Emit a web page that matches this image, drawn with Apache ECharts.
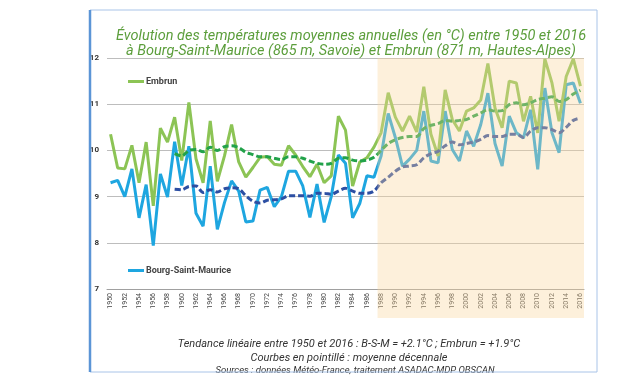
<!DOCTYPE html>
<html>
<head>
<meta charset="utf-8">
<script src="https://cdn.jsdelivr.net/npm/echarts@6/dist/echarts.min.js"></script>
<style>
  html, body { margin: 0; padding: 0; background: #fff; }
  #chart { width: 644px; height: 377px; }
</style>
</head>
<body>
<div id="chart"></div>
<script>
// années 1950 -> 2016
var years = [];
for (var y = 1950; y <= 2016; y++) years.push(String(y));

// Embrun, moyenne annuelle
var embrun = [
  10.35, 9.62, 9.6, 10.11, 9.3, 10.18, 8.8, 10.48, 10.18, 10.72,
  9.78, 11.04, 9.82, 9.3, 10.64, 9.33, 9.88, 10.56, 9.75, 9.42,
  9.63, 9.85, 9.87, 9.7, 9.68, 10.1, 9.9, 9.65, 9.43, 9.7,
  9.3, 9.45, 10.74, 10.44, 9.23, 9.75, 9.84, 10.07, 10.38, 11.25,
  10.72, 10.42, 10.74, 10.4, 11.38, 10.35, 9.88, 11.31, 10.67, 10.42,
  10.85, 10.92, 11.09, 11.88, 10.92, 10.49, 11.5, 11.46, 10.63, 11.17,
  10.38, 11.98, 11.46, 10.63, 11.6, 11.98, 11.39
];

// Bourg-Saint-Maurice, moyenne annuelle
var bsm = [
  9.3, 9.35, 9.0, 9.6, 8.54, 9.26, 7.94, 9.49, 8.99, 10.19,
  9.24, 10.09, 8.64, 8.36, 9.66, 8.29, 8.87, 9.34, 9.12, 8.45,
  8.47, 9.14, 9.2, 8.78, 9.0, 9.55, 9.55, 9.23, 8.55, 9.27,
  8.44, 9.0, 9.9, 9.72, 8.54, 8.85, 9.45, 9.42, 9.88, 10.8,
  10.28, 9.66, 9.81, 10.0, 10.85, 9.77, 9.73, 10.85, 10.02, 9.77,
  10.42, 10.09, 10.56, 11.24, 10.15, 9.66, 10.74, 10.38, 10.27, 10.88,
  9.59, 11.35, 10.38, 9.95, 11.42, 11.46, 11.02
];

// moyennes décennales (à partir de 1959)
var embrunAvg = [
  null, null, null, null, null, null, null, null, null, 9.93,
  9.88, 10.0, 10.02, 9.97, 10.07, 10.0, 10.08, 10.1, 10.06, 9.96,
  9.91, 9.86, 9.86, 9.83, 9.8, 9.86, 9.86, 9.83, 9.77, 9.72,
  9.7, 9.72, 9.83, 9.84, 9.79, 9.77, 9.79, 9.85, 10.0, 10.15,
  10.23, 10.28, 10.3, 10.3, 10.47, 10.54, 10.58, 10.65, 10.63, 10.65,
  10.67, 10.74, 10.81, 10.88, 10.85, 10.86, 10.99, 11.03, 10.99, 11.03,
  11.1, 11.13, 11.16, 11.06, 11.1, 11.22, 11.3
];

var bsmAvg = [
  null, null, null, null, null, null, null, null, null, 9.16,
  9.15, 9.22, 9.23, 9.09, 9.15, 9.1, 9.17, 9.19, 9.17, 9.02,
  8.9, 8.86, 8.92, 8.93, 8.95, 9.02, 9.02, 9.02, 9.01, 9.07,
  9.07, 9.05, 9.12, 9.18, 9.12, 9.07, 9.07, 9.12, 9.3, 9.42,
  9.55, 9.64, 9.66, 9.69, 9.84, 9.93, 9.98, 10.1, 10.18, 10.12,
  10.15, 10.18, 10.24, 10.32, 10.3, 10.3, 10.35, 10.35, 10.28, 10.42,
  10.49, 10.49, 10.45, 10.38, 10.5, 10.65, 10.7
];

var shadeFrom = '1987';
var shadeTo = '2016';

var chart = echarts.init(document.getElementById('chart'));

var option = {
  backgroundColor: '#fff',
  animation: false,
  textStyle: { fontFamily: 'Roboto' },
  title: [
    {
      text: 'Évolution des températures moyennes annuelles (en °C) entre 1950 et 2016\nà Bourg-Saint-Maurice (865 m, Savoie) et Embrun (871 m, Hautes-Alpes)',
      left: 346, top: 24, textAlign: 'center',
      textStyle: { fontSize: 14.5, fontStyle: 'italic', fontWeight: 'normal', color: '#5c9e3c', lineHeight: 15, fontFamily: 'Roboto' }
    },
    {
      text: 'Tendance linéaire entre 1950 et 2016 : B-S-M = +2.1°C ; Embrun = +1.9°C',
      left: 344, top: 334, textAlign: 'center',
      textStyle: { fontSize: 11, fontStyle: 'italic', fontWeight: 'normal', color: '#333', fontFamily: 'Roboto' }
    },
    {
      text: 'Courbes en pointillé : moyenne décennale',
      left: 344, top: 348, textAlign: 'center',
      textStyle: { fontSize: 11, fontStyle: 'italic', fontWeight: 'normal', color: '#333', fontFamily: 'Roboto' }
    },
    {
      text: 'Sources : données Météo-France, traitement ASADAC-MDP OBSCAN',
      left: 350, top: 361, textAlign: 'center',
      textStyle: { fontSize: 9.5, fontStyle: 'italic', fontWeight: 'normal', color: '#333', fontFamily: 'Roboto' }
    }
  ],
  legend: [
    {
      data: ['Embrun'], left: 123, top: 72, icon: 'rect', itemWidth: 16, itemHeight: 3, itemGap: 2,
      textStyle: { fontSize: 9, fontWeight: 'bold', color: '#444', padding: [0, 0, 0, -3] }
    },
    {
      data: ['Bourg-Saint-Maurice'], left: 123, top: 261, icon: 'rect', itemWidth: 16, itemHeight: 3,
      textStyle: { fontSize: 9, fontWeight: 'bold', color: '#444', padding: [0, 0, 0, -3] }
    }
  ],
  grid: { left: 107, right: 60, top: 58, bottom: 88 },
  xAxis: {
    type: 'category',
    data: years,
    boundaryGap: true,
    axisLine: { lineStyle: { color: '#a0a0a0' } },
    axisTick: { interval: 0, length: 3, alignWithLabel: true, lineStyle: { color: '#a0a0a0' } },
    axisLabel: { interval: 1, rotate: 90, fontSize: 7, color: '#444', margin: 4 }
  },
  yAxis: {
    type: 'value',
    min: 7, max: 12, interval: 1,
    axisLine: { show: false },
    axisTick: { show: false },
    axisLabel: { fontSize: 8, fontWeight: 'bold', color: '#333', margin: 8 },
    splitLine: { lineStyle: { color: '#bdbdbd', width: 1 } }
  },
  series: [
    {
      name: 'Embrun', type: 'line', data: embrun, symbol: 'none',
      lineStyle: { color: '#8cc455', width: 3 }, itemStyle: { color: '#8cc455' }, z: 3
    },
    {
      name: 'Bourg-Saint-Maurice', type: 'line', data: bsm, symbol: 'none',
      lineStyle: { color: '#1ea6e0', width: 3 }, itemStyle: { color: '#1ea6e0' }, z: 2
    },
    {
      name: 'Embrun moyenne', type: 'line', data: embrunAvg, symbol: 'none', smooth: 0.3,
      lineStyle: { color: '#22a24a', width: 3, type: [6, 3] }, z: 4
    },
    {
      name: 'BSM moyenne', type: 'line', data: bsmAvg, symbol: 'none', smooth: 0.3,
      lineStyle: { color: '#2c4fa3', width: 3, type: [6, 3] }, z: 4
    }
  ]
};

chart.setOption(option);

// période récente : voile beige posé au-dessus des courbes, calé sur les axes
var xa = chart.convertToPixel({ xAxisIndex: 0 }, shadeFrom);
var xb = chart.convertToPixel({ xAxisIndex: 0 }, String(Number(shadeFrom) + 1));
var xe = chart.convertToPixel({ xAxisIndex: 0 }, shadeTo);
var band = xb - xa;
var yTop = chart.convertToPixel({ yAxisIndex: 0 }, 12);
var yBot = chart.convertToPixel({ yAxisIndex: 0 }, 7);

chart.setOption({
  graphic: [
    {
      type: 'rect', z: 100, silent: true,
      shape: { x: (xa + xb) / 2, y: yTop, width: xe + band / 2 - (xa + xb) / 2, height: yBot - yTop + 29 },
      style: { fill: 'rgba(249, 214, 155, 0.36)' }
    },
    {
      type: 'rect', z: 101, silent: true,
      shape: { x: 90, y: 10, width: 507, height: 362 },
      style: { fill: 'none', stroke: '#a9c4e8', lineWidth: 1 }
    },
    {
      type: 'line', z: 101, silent: true,
      shape: { x1: 90, y1: 10, x2: 90, y2: 372 },
      style: { stroke: '#5b95d6', lineWidth: 2.5 }
    }
  ]
});
</script>
</body>
</html>
